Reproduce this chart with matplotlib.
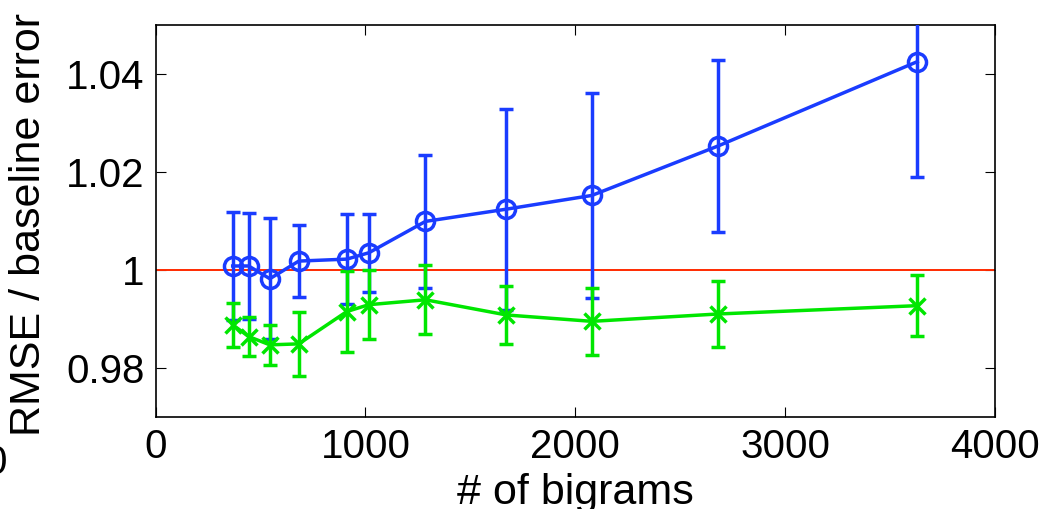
import numpy as np
import matplotlib
matplotlib.use('Agg')
import matplotlib.pyplot as plt

plt.rcParams['font.family'] = ['Liberation Sans', 'DejaVu Sans']

n_bigrams = [367, 443, 544, 682, 911, 1016, 1286, 1672, 2079, 2681, 3630]

# bigram model, relative RMSE and std error
rmse_bigram = [1.0008, 1.0008, 0.9982, 1.0018, 1.0022, 1.0035, 1.0099,
               1.0124, 1.0152, 1.0253, 1.0425]
err_bigram = [0.0110, 0.0109, 0.0124, 0.0074, 0.0092, 0.0080, 0.0135,
              0.0205, 0.0210, 0.0175, 0.0236]

# unigram model
rmse_unigram = [0.9888, 0.9864, 0.9847, 0.9849, 0.9915, 0.9929, 0.9939,
                0.9908, 0.9895, 0.9910, 0.9927]
err_unigram = [0.0045, 0.0039, 0.0041, 0.0066, 0.0083, 0.0070, 0.0070,
               0.0059, 0.0068, 0.0068, 0.0062]

baseline = 1.0

fig = plt.figure(figsize=(10.45, 5.09), dpi=100)
ax = fig.add_axes([0.149, 0.181, 0.803, 0.770])

lw = 2.5
ax.errorbar(n_bigrams, rmse_bigram, err_bigram, color='#1a3cff',
            marker='o', markersize=13, markerfacecolor='none',
            markeredgewidth=lw, linewidth=lw, capsize=5, capthick=lw,
            elinewidth=lw, zorder=3)
ax.errorbar(n_bigrams, rmse_unigram, err_unigram, color='#00e600',
            marker='x', markersize=11, markeredgewidth=lw, linewidth=lw,
            capsize=5, capthick=lw, elinewidth=lw, zorder=3)
ax.axhline(baseline, color='#ff2a00', linewidth=1.4, zorder=2)

ax.set_xlim(0, 4000)
ax.set_ylim(0.97, 1.05)
ax.set_xticks([0, 1000, 2000, 3000, 4000])
ax.set_yticks([0.98, 1.0, 1.02, 1.04])
ax.set_yticklabels(['0.98', '1', '1.02', '1.04'])
ax.tick_params(direction='in', length=7, width=0.8, labelsize=29,
               top=True, right=True, pad=8)
for s in ax.spines.values():
    s.set_linewidth(1.2)

ax.set_xlabel('# of bigrams', fontsize=31)
ax.set_ylabel('RMSE / baseline error', fontsize=31)
ax.xaxis.set_label_coords(0.5, -0.143)
ax.yaxis.set_label_coords(-0.127, 0.49)

# tick label of the neighbouring panel, cut by the left edge
fig.text(7 / 1045, 1 - 463 / 509, '0', fontsize=29, ha='right', va='center')

fig.savefig('out.png', dpi=100)
